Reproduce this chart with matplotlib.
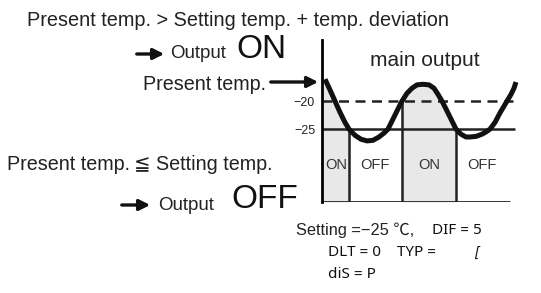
import matplotlib
matplotlib.use("Agg")
import matplotlib.pyplot as plt

# curve: time (px from the axis) and present temp
times = [3, 8, 13, 18, 23, 27, 33, 39, 45, 51, 57, 62, 66, 71, 76, 80, 85, 90, 95, 101,
         107, 112, 116, 120, 124, 129, 134, 139, 144, 148, 154, 160, 164, 168, 173, 178,
         182, 185, 189, 192, 194]
temps = [-16.1, -18.0, -20.0, -22.0, -23.8, -25.0, -26.1, -26.8, -27.1, -27.0, -26.4,
         -25.7, -25.0, -23.2, -21.4, -20.0, -18.6, -17.7, -17.1, -17.0, -17.1, -17.7,
         -18.8, -20.0, -21.4, -23.2, -25.0, -25.9, -26.4, -26.4, -26.3, -25.9, -25.5,
         -25.0, -23.8, -22.1, -20.9, -20.0, -18.8, -17.7, -16.6]

setting = -25
upper = -20
switch_times = [27, 80, 134]
switch_tops = [-25, -20, -25]
on_spans = [(0, 27, -15.7), (80, 134, -20.0)]
state_labels = ["ON", "OFF", "ON", "OFF"]
state_x = [14, 53, 107, 160]
tick_vals = [-20, -25]
tick_text = ["\u221220", "\u221225"]

y_bottom, y_top = -38, -9.1

fig = plt.figure(figsize=(5.41, 2.93), dpi=100)

# chart area
ax = fig.add_axes([322 / 541, (293 - 202) / 293, 200 / 541, 162 / 293])
ax.set_xlim(0, 200)
ax.set_ylim(y_bottom, y_top)
for s in ["top", "right", "bottom"]:
    ax.spines[s].set_visible(False)
ax.spines["left"].set_linewidth(2)
ax.set_xticks([])
ax.set_yticks(tick_vals)
ax.set_yticklabels(tick_text, fontsize=9, family="Liberation Sans", color="#222")
ax.tick_params(axis="y", length=0, pad=5)

for a, b, start in on_spans:
    xs = [a] + [t for t in times if a < t < b] + [b]
    ys = [start] + [v for t, v in zip(times, temps) if a < t < b] + [setting]
    ax.fill_between(xs, ys, y_bottom, color="#e8e8e8", lw=0, zorder=1)

ax.hlines(y_bottom, 0, 188, color="#222", lw=2, zorder=2)
ax.hlines(setting, 0, 193, color="#222", lw=1.8, zorder=2)
ax.hlines(upper, 0, 191, color="#222", lw=1.8, linestyles=(0, (4, 2.6)), zorder=2)
ax.vlines(switch_times, y_bottom, switch_tops, color="#222", lw=1.8, zorder=2)
ax.plot(times, temps, color="#111", lw=3.6, solid_capstyle="butt", clip_on=False, zorder=3)

for lbl, x in zip(state_labels, state_x):
    ax.text(x, -31.4, lbl, ha="center", va="center", fontsize=10.5,
            family="Liberation Sans", color="#333")

# overlay in pixel coordinates for the annotations
ov = fig.add_axes([0, 0, 1, 1], facecolor="none")
ov.set_xlim(0, 541)
ov.set_ylim(293, 0)
ov.axis("off")

thin = "Liberation Sans"
arrow = dict(arrowstyle="-|>", lw=2.4, color="#111", mutation_scale=16)

ov.text(27, 20, "Present temp. > Setting temp. + temp. deviation", fontsize=14.3,
        family=thin, va="center", color="#222")
ov.annotate("", xy=(167, 54), xytext=(134, 54), arrowprops=arrow)
ov.text(170, 54, "Output", fontsize=13.5, family=thin, va="center", color="#222")
ov.text(236, 49, "ON", fontsize=24, family=thin, va="center", color="#111")
ov.text(425, 60, "main output", fontsize=15, family=thin, ha="center", va="center", color="#222")
ov.text(143, 84, "Present temp.", fontsize=14.2, family=thin, va="center", color="#222")
ov.annotate("", xy=(321, 82), xytext=(268, 82), arrowprops=arrow)
ov.text(7, 165, "Present temp.\u2009\u2266 Setting temp.", fontsize=14.2,
        family=[thin, "DejaVu Sans"], va="center", color="#222")
ov.annotate("", xy=(153, 205), xytext=(119, 205), arrowprops=arrow)
ov.text(158, 205, "Output", fontsize=13.5, family=thin, va="center", color="#222")
ov.text(231, 200, "OFF", fontsize=24, family=thin, va="center", color="#111")

ov.text(296, 230, "Setting =\u221225 \u2103,", fontsize=11.8,
        family=[thin, "Noto Sans CJK KR"], va="center", color="#222")
ov.text(432, 231, "DIF = 5", fontsize=11, family="Noto Sans", va="center", color="#111")
ov.text(328, 252, "DLT = 0    TYP =", fontsize=11, family="Noto Sans", va="center", color="#111")
ov.text(474, 252, "[", fontsize=10.5, family="Noto Sans", style="italic", va="center", color="#111")
ov.text(328, 274, "diS = P", fontsize=11, family="Noto Sans", va="center", color="#111")

fig.savefig("out.png", dpi=100)
